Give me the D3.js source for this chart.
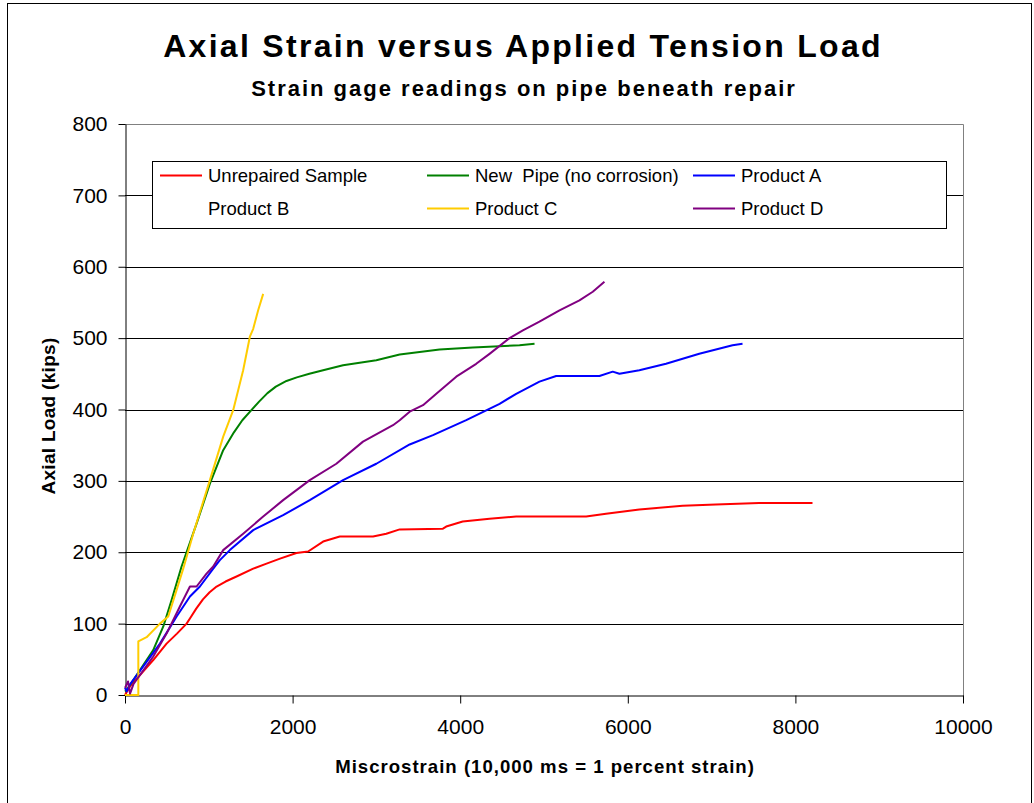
<!DOCTYPE html>
<html>
<head>
<meta charset="utf-8">
<script src="https://cdn.jsdelivr.net/npm/d3@7"></script>
<style>
  body { margin: 0; background: #fff; }
  text { font-family: "Liberation Sans", Arial, sans-serif; white-space: pre; }
</style>
</head>
<body>
<svg id="svg_chart" width="1034" height="803"></svg>
<script>
// series data: [microstrain, load in kips]
var unrepaired = [[0,0],[60,12],[337,49],[496,72],[620,86],[735,100],[790,110],[850,121],[930,134],[1010,144],[1093,152],
  [1200,159],[1331,166],[1530,177],[1689,184],[1850,191],[2046,199],[2185,201],[2364,215],[2563,222],[2960,222],
  [3118,226],[3278,232],[3794,233],[3833,236],[4030,243],[4350,247],[4668,250],[5503,250],[5740,254],[6138,260],
  [6654,265],[7051,267],[7568,269],[8204,269]];
var newPipe = [[0,5],[20,7],[179,35],[337,63],[457,96],[556,133],[675,180],[854,240],[1013,296],[1172,343],
  [1300,368],[1400,385],[1500,398],[1600,411],[1700,423],[1800,432],[1927,440],[2050,445],[2200,450],[2364,455],
  [2602,462],[2999,469],[3278,477],[3754,484],[4151,487],[4708,490],[4887,492]];
var productA = [[0,10],[20,5],[60,15],[218,40],[417,72],[616,110],[775,138],[894,152],[1053,177],[1132,189],
  [1251,203],[1530,231],[1887,252],[2205,273],[2602,301],[2999,324],[3397,351],[3675,364],[4072,385],[4470,408],
  [4668,422],[4946,439],[5145,447],[5662,447],[5820,453],[5900,450],[6138,455],[6456,464],[6853,478],[7250,490],[7369,492]];
var productB = [];
var productC = [[0,0],[159,0],[159,75],[258,81],[417,100],[516,110],[615,147],[695,177],[814,226],[1013,301],
  [1172,362],[1291,399],[1410,455],[1490,502],[1530,513],[1589,539],[1649,562]];
var productD = [[0,10],[36,19],[60,2],[100,15],[337,54],[496,86],[655,124],[775,152],[854,152],[973,170],
  [1053,180],[1172,203],[1410,226],[1649,250],[1887,273],[2205,301],[2522,324],[2840,355],[3198,378],[3278,385],
  [3397,397],[3556,406],[3715,422],[3953,446],[4191,464],[4350,478],[4589,500],[4748,511],[4946,523],[5185,539],
  [5423,553],[5582,565],[5721,579]];

var seriesNames = ["Unrepaired Sample", "New  Pipe (no corrosion)", "Product A", "Product B", "Product C", "Product D"];
var seriesData = [unrepaired, newPipe, productA, productB, productC, productD];
var seriesColors = ["#ff0000", "#008000", "#0000ff", null, "#ffcc00", "#800080"];

var xTicks = [0, 2000, 4000, 6000, 8000, 10000];
var yTicks = [0, 100, 200, 300, 400, 500, 600, 700, 800];

var svg = d3.select("#svg_chart"),
    plot = {left: 125, right: 963, top: 124, bottom: 695};

// chart border
svg.append("rect")
    .attr("x", 7.5).attr("y", 3.5)
    .attr("width", 1024).attr("height", 820)
    .attr("fill", "#fff").attr("stroke", "#000");

var xScale = d3.scaleLinear().domain([0, 10000]).range([plot.left, plot.right]);
var yScale = d3.scaleLinear().domain([0, 800]).range([plot.bottom, plot.top]);

// gridlines
svg.append("g").selectAll("line")
    .data(yTicks.slice(1, -1))
    .enter().append("line")
    .attr("x1", plot.left).attr("x2", plot.right)
    .attr("y1", function(d) { return Math.round(yScale(d)) + 0.5; })
    .attr("y2", function(d) { return Math.round(yScale(d)) + 0.5; })
    .attr("stroke", "#000");

// top and right edges of plot area are grey
svg.append("path")
    .attr("d", "M" + plot.left + "," + (plot.top + 0.5) + "H" + (plot.right + 0.5) + "V" + (plot.bottom + 8))
    .attr("fill", "none")
    .attr("stroke", "#808080");

var xAxis = d3.axisBottom(xScale).tickValues(xTicks).tickFormat(d3.format("d"))
    .tickSize(8).tickPadding(16).tickSizeOuter(0);
var yAxis = d3.axisLeft(yScale).tickValues(yTicks).tickFormat(d3.format("d"))
    .tickSize(7).tickPadding(11).tickSizeOuter(0);

var gx = svg.append("g")
    .attr("transform", "translate(0," + (plot.bottom + 0.5) + ")")
    .call(xAxis);
var gy = svg.append("g")
    .attr("transform", "translate(" + (plot.left + 0.5) + ",0)")
    .call(yAxis);

[gx, gy].forEach(function(g) {
  g.selectAll("text").attr("font-size", 21).attr("fill", "#000")
      .style("font-family", "'Liberation Sans', Arial, sans-serif");
  g.selectAll("line").attr("stroke", "#000");
  g.select(".domain").attr("stroke", "#000");
});

// series lines
var line = d3.line()
    .x(function(d) { return xScale(d[0]); })
    .y(function(d) { return yScale(d[1]); });

seriesData.forEach(function(data, i) {
  if (!seriesColors[i] || data.length == 0) return;
  svg.append("path")
      .datum(data)
      .attr("fill", "none")
      .attr("stroke", seriesColors[i])
      .attr("stroke-width", 2)
      .attr("stroke-linejoin", "round")
      .attr("d", line);
});

// titles
svg.append("text")
    .attr("x", 523).attr("y", 57)
    .attr("text-anchor", "middle")
    .attr("font-size", 32).attr("font-weight", "bold")
    .attr("letter-spacing", 2.3)
    .text("Axial Strain versus Applied Tension Load");

svg.append("text")
    .attr("x", 524).attr("y", 96)
    .attr("text-anchor", "middle")
    .attr("font-size", 22).attr("font-weight", "bold")
    .attr("letter-spacing", 2)
    .text("Strain gage readings on pipe beneath repair");

svg.append("text")
    .attr("x", 545).attr("y", 773)
    .attr("text-anchor", "middle")
    .attr("font-size", 18.6).attr("font-weight", "bold")
    .attr("letter-spacing", 1)
    .text("Miscrostrain (10,000 ms = 1 percent strain)");

svg.append("text")
    .attr("transform", "translate(55,416) rotate(-90)")
    .attr("text-anchor", "middle")
    .attr("font-size", 19).attr("font-weight", "bold")
    .attr("letter-spacing", 0.3)
    .text("Axial Load (kips)");

// legend
var legend_x = 152, legend_y = 161, legend_w = 794, legend_h = 67;
var legend_cols = [160, 427, 693];
var legend_rows = [175.5, 208.5];

svg.append("rect")
    .attr("x", legend_x + 0.5).attr("y", legend_y + 0.5)
    .attr("width", legend_w).attr("height", legend_h)
    .attr("fill", "#fff").attr("stroke", "#000");

var items = svg.append("g").selectAll("g")
    .data(seriesNames)
    .enter().append("g")
    .attr("transform", function(d, i) {
      return "translate(" + legend_cols[i % 3] + "," + legend_rows[Math.floor(i / 3)] + ")";
    });

items.append("line")
    .attr("x1", 0).attr("x2", 42)
    .attr("stroke", function(d, i) { return seriesColors[i] || "none"; })
    .attr("stroke-width", 2);

items.append("text")
    .attr("x", 48).attr("y", 6.5)
    .attr("font-size", 18.5)
    .text(function(d) { return d; });
</script>
</body>
</html>
